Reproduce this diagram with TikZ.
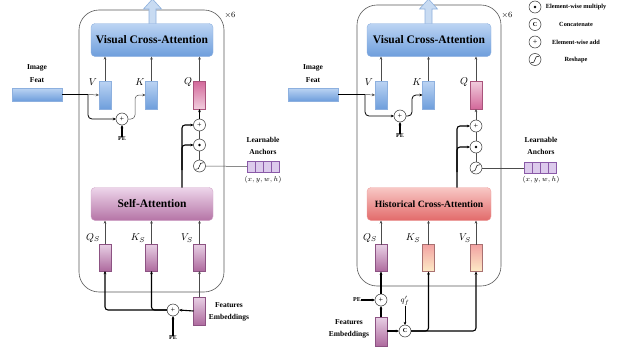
\documentclass[tikz,border=0pt]{standalone}
\usepackage{fontspec}
\setmainfont{Liberation Serif}
\usetikzlibrary{arrows.meta,calc}
\definecolor{bluetop}{HTML}{BCD4F3}
\definecolor{bluebot}{HTML}{6E9EDC}
\definecolor{blueedge}{HTML}{8DB0DF}
\definecolor{satop}{HTML}{EDD5EA}
\definecolor{sabot}{HTML}{B574A6}
\definecolor{hcatop}{HTML}{F8C8C5}
\definecolor{hcabot}{HTML}{E26A6A}
\definecolor{ptop}{HTML}{E8D0E5}
\definecolor{pbot}{HTML}{AE6A9E}
\definecolor{pedge}{HTML}{8C5282}
\definecolor{qdark}{HTML}{D3689A}
\definecolor{qlight}{HTML}{F1CDDD}
\definecolor{otop}{HTML}{F2A2A2}
\definecolor{obot}{HTML}{FDEBC6}
\definecolor{ancfill}{HTML}{DCCAEC}
\definecolor{ancedge}{HTML}{8A5AA8}
\definecolor{arrfill}{HTML}{C8DBF2}
\definecolor{arredge}{HTML}{8EB0DC}
\begin{document}
\begin{tikzpicture}[x=1pt,y=-1pt,
  every node/.style={inner sep=0pt, outer sep=0pt},
  tip/.style={-{Stealth[length=3.2pt,width=2.8pt]}},
  thk/.style={line width=1.1pt, black},
  med/.style={line width=0.8pt, black},
  thn/.style={line width=0.5pt, black!70},
  outerbox/.style={draw=black!65, line width=0.6pt, rounded corners=20pt},
  bigbox/.style={rounded corners=4pt, minimum width=122pt, minimum height=33pt, font=\fontsize{11.5}{13}\selectfont\bfseries},
  vcabox/.style={bigbox, draw=blueedge, top color=bluetop, bottom color=bluebot},
  sabox/.style={bigbox, draw=ptop!60!pbot, top color=satop, bottom color=sabot},
  hcabox/.style={bigbox, draw=hcatop!60!hcabot, top color=hcatop, bottom color=hcabot, font=\fontsize{9.6}{11}\selectfont\bfseries},
  bar/.style={minimum width=12pt, minimum height=28pt, line width=0.4pt},
  bluebar/.style={bar, draw=blueedge, top color=bluetop, bottom color=bluebot},
  pbar/.style={bar, draw=pedge, top color=ptop, bottom color=pbot},
  qbarA/.style={bar, draw=qdark!80!black, top color=qdark, bottom color=qlight},
  qbarB/.style={bar, draw=qdark!80!black, top color=qlight, bottom color=qdark},
  obar/.style={bar, draw=otop!70!black, top color=otop, bottom color=obot},
  imgbar/.style={minimum width=50pt, minimum height=13pt, draw=blueedge, top color=bluetop, bottom color=bluebot},
  op/.style={circle, draw=black!80, fill=white, minimum size=12pt, line width=0.5pt},
  plusop/.style={op, font=\fontsize{8}{8}\selectfont},
  lbl/.style={font=\fontsize{7.5}{8}\selectfont\bfseries},
  pel/.style={font=\fontsize{6}{6}\selectfont\bfseries},
  leg/.style={font=\fontsize{6.3}{7}\selectfont\bfseries},
  mlbl/.style={font=\fontsize{10}{11}\selectfont},
  anccell/.style={draw=ancedge, fill=ancfill, line width=0.5pt}
]
\useasboundingbox (0,0) rectangle (624,348);
\newcommand{\reshapesym}[1]{\draw[line width=0.5pt] ($(#1)+(-4,3.3)$) .. controls ($(#1)+(1.5,4.8)$) and ($(#1)+(-1.5,-4.8)$) .. ($(#1)+(4,-3.3)$);}

% ================= LEFT PANEL =================
\draw[outerbox] (79,10) rectangle (224,292);
\node[font=\fontsize{8}{9}\selectfont] (x6L) at (230,15) {$\times6$};
\draw[fill=arrfill, draw=arredge, line width=0.6pt] (149,24) -- (149,9) -- (143.5,9) -- (152.5,-1) -- (161.5,9) -- (156,9) -- (156,24);
\node[vcabox] (vcaL) at (152,40) {Visual Cross-Attention};

\node[lbl] (imgt1) at (37,68) {Image};
\node[lbl] (imgt2) at (37,80) {Feat};
\node[imgbar] (img1) at (37,94.5) {};

\node[bluebar] (V1) at (105,95) {};
\node[bluebar] (K1) at (151.5,95) {};
\node[qbarA] (Q1) at (199.5,95) {};
\node[mlbl] (V1l) at (93,82) {$V$};
\node[mlbl] (K1l) at (140,82) {$K$};
\node[mlbl] (Q1l) at (188,82) {$Q$};
\foreach \n in {V1,K1,Q1}{\draw[thn,tip] (\n.north) -- (\n.north |- vcaL.south);}

\coordinate (b1) at (88,94.5);
\node[plusop] (p1) at (122,119) {+};
\draw[thk] (img1.east) -- (b1);
\draw[thn,tip] (b1) -- (V1.west);
\draw[med,tip,rounded corners=4pt] (b1) |- (p1.west);
\draw[thn,tip,rounded corners=4pt] (p1.east) -| (135,95) -- (K1.west);
\node[pel] (pe1) at (122,139) {PE};
\draw[thk,tip] (pe1.north) -- (p1.south);

\node[plusop] (p2) at (199.5,125) {+};
\node[op] (m1) at (199.5,145) {};
\fill (m1) circle (1.4pt);
\node[op] (r1) at (199.5,166) {};
\reshapesym{r1}
\draw[thk,tip] (p2.north) -- (Q1.south);
\draw[thn] (r1.north) -- (m1.south);
\draw[thn] (m1.north) -- (p2.south);

\node[sabox] (saL) at (152,204) {Self-Attention};
\draw[thk,tip,rounded corners=3pt] (saL.north -| 182,0) |- (p2.west);
\draw[thk,tip,rounded corners=3pt] (182,170) |- (m1.west);

\node[minimum width=32pt, minimum height=11pt] (anc1) at (263,166.5) {};
\foreach \i in {0,1,2,3}{\draw[anccell] (247+8*\i,161) rectangle +(8,11);}
\draw[thn] (r1.east) -- (anc1.west);
\node[lbl] (lrn1) at (263,140) {Learnable};
\node[lbl] (anct1) at (263,152) {Anchors};
\node[font=\fontsize{7}{8}\selectfont] (xywh1) at (263,180) {$(x,y,w,h)$};

\node[pbar, minimum height=27pt] (qs1) at (105,257.5) {};
\node[pbar, minimum height=27pt] (ks1) at (151.5,257.5) {};
\node[pbar, minimum height=27pt] (vs1) at (199.5,257.5) {};
\node[mlbl] (qs1l) at (93,238) {$Q_S$};
\node[mlbl] (ks1l) at (138,238) {$K_S$};
\node[mlbl] (vs1l) at (187,238) {$V_S$};
\foreach \n in {qs1,ks1,vs1}{\draw[thn,tip] (\n.north) -- (\n.north |- saL.south);}

\node[pbar] (fe1) at (199.5,311) {};
\node[lbl] (fet1) at (229,305) {Features};
\node[lbl] (fet2) at (229,318) {Embeddings};
\node[plusop] (p3) at (173,310) {+};
\draw[thk,tip] (fe1.west) -- (p3.east);
\draw[thk,tip,rounded corners=3pt] (p3.west) -| (qs1.south);
\draw[thk,tip,rounded corners=3pt] (p3.west) -| (ks1.south);
\draw[thn,tip] (fe1.north) -- (vs1.south);
\node[pel] (pe3) at (173,338) {PE};
\draw[thk,tip] (pe3.north) -- (p3.south);

% ================= RIGHT PANEL =================
\draw[outerbox] (357,5) rectangle (501,286);
\node[font=\fontsize{8}{9}\selectfont] (x6R) at (507,15) {$\times6$};
\draw[fill=arrfill, draw=arredge, line width=0.6pt] (425,24) -- (425,9) -- (419.5,9) -- (428.5,-1) -- (437.5,9) -- (432,9) -- (432,24);
\node[vcabox, minimum width=124pt] (vcaR) at (429,40) {Visual Cross-Attention};

\node[lbl] (imgt3) at (313,68) {Image};
\node[lbl] (imgt4) at (313,80) {Feat};
\node[imgbar] (img2) at (313,94.5) {};

\node[bluebar] (V2) at (381,95) {};
\node[bluebar] (K2) at (428.5,95) {};
\node[qbarB] (Q2) at (476,95) {};
\node[mlbl] (V2l) at (369,82) {$V$};
\node[mlbl] (K2l) at (417,82) {$K$};
\node[mlbl] (Q2l) at (464,82) {$Q$};
\foreach \n in {V2,K2,Q2}{\draw[thn,tip] (\n.north) -- (\n.north |- vcaR.south);}

\coordinate (b2) at (365,94.5);
\node[plusop] (p4) at (400,116) {+};
\draw[thk] (img2.east) -- (b2);
\draw[thn,tip] (b2) -- (V2.west);
\draw[med,tip,rounded corners=4pt] (b2) |- (p4.west);
\draw[med,tip,rounded corners=4pt] (p4.east) -| (412,95) -- (K2.west);
\node[pel] (pe4) at (400,136) {PE};
\draw[thk,tip] (pe4.north) -- (p4.south);

\node[plusop] (p5) at (476,126) {+};
\node[op] (m2) at (476,147) {};
\fill (m2) circle (1.4pt);
\node[op] (r2) at (476,168) {};
\reshapesym{r2}
\draw[thn,tip] (p5.north) -- (Q2.south);
\draw[thn] (r2.north) -- (m2.south);
\draw[thn] (m2.north) -- (p5.south);

\node[hcabox, minimum width=124pt] (hcaR) at (429,204) {Historical Cross-Attention};
\draw[thk,tip,rounded corners=3pt] (hcaR.north -| 457,0) |- (p5.west);
\draw[thk,tip,rounded corners=3pt] (457,172) |- (m2.west);

\node[minimum width=32pt, minimum height=11pt] (anc2) at (540,168) {};
\foreach \i in {0,1,2,3}{\draw[anccell] (524+8*\i,162.5) rectangle +(8,11);}
\draw[thn] (r2.east) -- (anc2.west);
\node[lbl] (lrn2) at (541,140) {Learnable};
\node[lbl] (anct2) at (541,152) {Anchors};
\node[font=\fontsize{7}{8}\selectfont] (xywh2) at (541,180) {$(x,y,w,h)$};

\node[pbar, minimum height=27pt] (qs2) at (381,258) {};
\node[obar, minimum height=27pt] (ks2) at (428.5,258) {};
\node[obar, minimum height=27pt] (vs2) at (476,258) {};
\node[mlbl] (qs2l) at (370,238) {$Q_S$};
\node[mlbl] (ks2l) at (413,238) {$K_S$};
\node[mlbl] (vs2l) at (465,238) {$V_S$};
\foreach \n in {qs2,ks2,vs2}{\draw[thn,tip] (\n.north) -- (\n.north |- hcaR.south);}

\node[plusop] (p6) at (381,300) {+};
\node[pel] (pe6) at (357,300) {PE};
\draw[thk,tip] (pe6.east) -- (p6.west);
\draw[thk,tip] (p6.north) -- (qs2.south);
\node[pbar, minimum height=29pt] (fe2) at (381,331.5) {};
\draw[thk,tip] (fe2.north) -- (p6.south);
\node[lbl] (fet3) at (349,322) {Features};
\node[lbl] (fet4) at (349,335) {Embeddings};
\node[op, font=\fontsize{6}{6}\selectfont\bfseries] (c1) at (405,331) {C};
\draw[thk,tip] (fe2.east |- c1) -- (c1.west);
\node[font=\fontsize{8}{9}\selectfont] (qf) at (405,301) {$q_f'$};
\draw[med,tip] (qf.south) -- (c1.north);
\draw[thk,tip,rounded corners=3pt] (c1.east) -| (ks2.south);
\draw[thk,tip,rounded corners=3pt] (c1.east) -| (vs2.south);

% ================= LEGEND =================
\node[op] (lg1) at (535,7) {};
\fill (lg1) circle (1.4pt);
\node[op, font=\fontsize{6}{6}\selectfont\bfseries] (lg2) at (535,24.5) {C};
\node[plusop] (lg3) at (535,42) {+};
\node[op] (lg4) at (535,59.5) {};
\reshapesym{lg4}
\node[leg] (lgt1) at (576,7) {Element-wise multiply};
\node[leg] (lgt2) at (576,24.5) {Concatenate};
\node[leg] (lgt3) at (576,42) {Element-wise add};
\node[leg] (lgt4) at (576,59.5) {Reshape};
\end{tikzpicture}
\end{document}
